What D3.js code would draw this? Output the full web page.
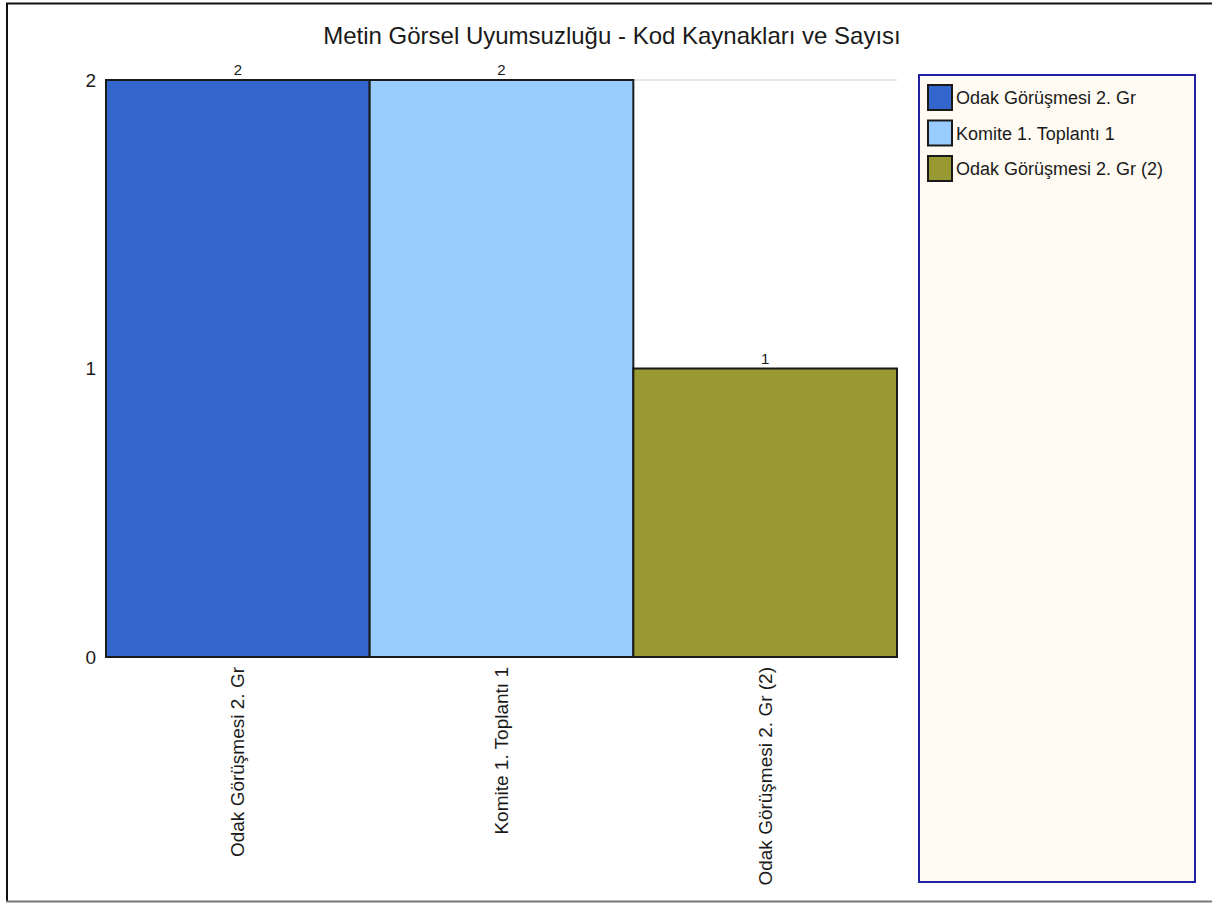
<!DOCTYPE html>
<html>
<head>
<meta charset="utf-8">
<script src="https://cdn.jsdelivr.net/npm/d3@7"></script>
<style>
  html, body { margin: 0; padding: 0; background: #ffffff; }
  svg { display: block; }
  text { font-family: "Liberation Sans", Arial, sans-serif; }
</style>
</head>
<body>
<script>
const title = "Metin Görsel Uyumsuzluğu - Kod Kaynakları ve Sayısı";
const categories = ["Odak Görüşmesi 2. Gr", "Komite 1. Toplantı 1", "Odak Görüşmesi 2. Gr (2)"];
const values = [2, 2, 1];
const colors = ["#3366CC", "#99CCFF", "#999933"];
const yTicks = [0, 1, 2];

const W = 1212, H = 903;
const svg = d3.select("body").append("svg").attr("width", W).attr("height", H);

// outer frame
svg.append("line").attr("x1", 6).attr("x2", W).attr("y1", 3.5).attr("y2", 3.5).attr("stroke", "#111").attr("stroke-width", 2);
svg.append("line").attr("x1", 7).attr("x2", 7).attr("y1", 3).attr("y2", 901).attr("stroke", "#111").attr("stroke-width", 2);
svg.append("line").attr("x1", 6).attr("x2", W).attr("y1", 901.5).attr("y2", 901.5).attr("stroke", "#777").attr("stroke-width", 2);

const plot = { left: 106, right: 897, top: 80, bottom: 657 };

const x = d3.scaleBand().domain(categories).range([plot.left, plot.right]).padding(0);
const y = d3.scaleLinear().domain([0, 2]).range([plot.bottom, plot.top]);

// title
svg.append("text").attr("x", 612).attr("y", 44).attr("text-anchor", "middle")
  .style("font-size", "24px").attr("fill", "#1a1a1a").text(title);

// gridline at top
svg.append("line").attr("x1", plot.left).attr("x2", plot.right)
  .attr("y1", y(2)).attr("y2", y(2)).attr("stroke", "#d0d0d0").attr("stroke-width", 1);

// y axis
const yAxis = d3.axisLeft(y).tickValues(yTicks).tickFormat(d3.format("d")).tickSize(0).tickPadding(10);
const gy = svg.append("g").attr("transform", `translate(${plot.left},0)`).call(yAxis);
gy.attr("font-size", null).attr("font-family", null);
gy.select(".domain").remove();
gy.selectAll("text").style("font-size", "19px").attr("fill", "#1a1a1a")
  .style("font-family", "Liberation Sans, Arial, sans-serif");

// bars
svg.selectAll("rect.bar").data(categories).enter().append("rect")
  .attr("class", "bar")
  .attr("x", d => x(d))
  .attr("y", (d, i) => y(values[i]))
  .attr("width", x.bandwidth())
  .attr("height", (d, i) => y(0) - y(values[i]))
  .attr("fill", (d, i) => colors[i])
  .attr("stroke", "#1a1a1a").attr("stroke-width", 2);

// value labels
svg.selectAll("text.val").data(categories).enter().append("text")
  .attr("class", "val")
  .attr("x", d => x(d) + x.bandwidth() / 2)
  .attr("y", (d, i) => y(values[i]) - 5)
  .attr("text-anchor", "middle").style("font-size", "15px").attr("fill", "#1a1a1a")
  .text((d, i) => values[i]);

// x axis labels (rotated)
const xAxis = d3.axisBottom(x).tickSize(0).tickPadding(0);
const gx = svg.append("g").attr("transform", `translate(0,${plot.bottom})`).call(xAxis);
gx.attr("font-size", null).attr("font-family", null);
gx.select(".domain").remove();
gx.selectAll("text")
  .style("font-size", "19px").attr("fill", "#1a1a1a").style("font-family", "Liberation Sans, Arial, sans-serif")
  .attr("text-anchor", "end")
  .attr("transform", "rotate(-90)")
  .attr("x", -10).attr("y", 0).attr("dy", "0.35em");

// legend
const lg = svg.append("g");
lg.append("rect").attr("x", 919).attr("y", 75).attr("width", 276).attr("height", 807)
  .attr("fill", "#FFFAF2").attr("stroke", "#2020A0").attr("stroke-width", 2);
const rows = lg.selectAll("g.row").data(categories).enter().append("g")
  .attr("class", "row")
  .attr("transform", (d, i) => `translate(928, ${85 + i * 35.5})`);
rows.append("rect").attr("x", 0).attr("y", 0).attr("width", 24).attr("height", 25)
  .attr("fill", (d, i) => colors[i]).attr("stroke", "#1a1a1a").attr("stroke-width", 2);
rows.append("text").attr("x", 28).attr("y", 13).attr("dy", "0.35em")
  .style("font-size", "18px").attr("fill", "#1a1a1a").text(d => d);
</script>
</body>
</html>
